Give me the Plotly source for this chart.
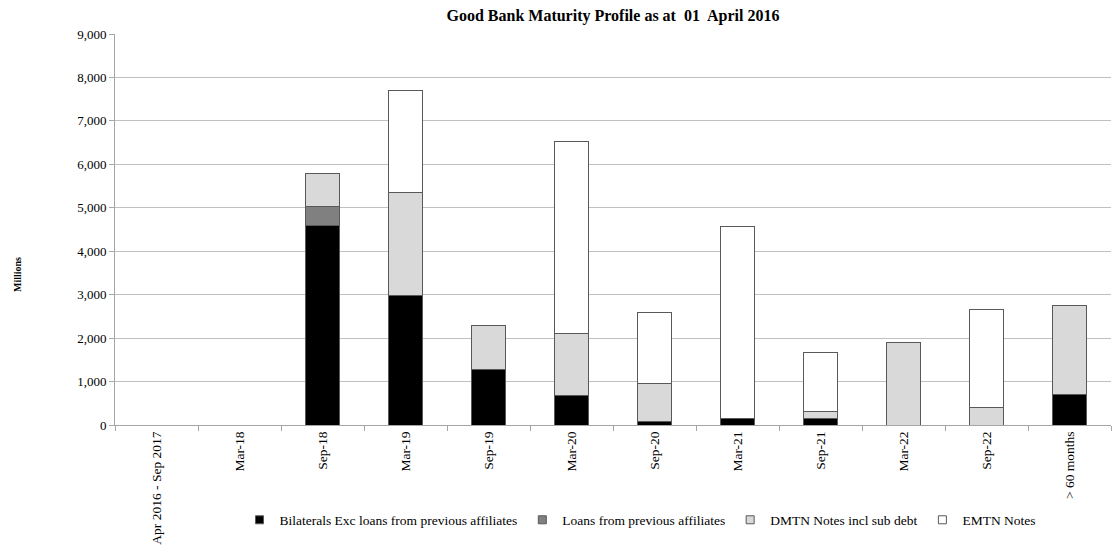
import plotly.graph_objects as go

categories = ["Apr 2016 - Sep 2017", "Mar-18", "Sep-18", "Mar-19", "Sep-19", "Mar-20",
              "Sep-20", "Mar-21", "Sep-21", "Mar-22", "Sep-22", "> 60 months"]

bilaterals = [0, 0, 4600, 2970, 1280, 670, 90, 150, 150, 0, 0, 700]
affiliate_loans = [0, 0, 440, 0, 0, 0, 0, 0, 0, 0, 0, 0]
dmtn_notes = [0, 0, 740, 2390, 1000, 1440, 870, 0, 150, 1895, 400, 2055]
emtn_notes = [0, 0, 0, 2340, 0, 4405, 1640, 4415, 1365, 0, 2250, 0]

series = [
    ("Bilaterals Exc loans from previous affiliates", bilaterals, "#000000"),
    ("Loans from previous affiliates", affiliate_loans, "#808080"),
    ("DMTN Notes incl sub debt", dmtn_notes, "#d9d9d9"),
    ("EMTN Notes", emtn_notes, "#ffffff"),
]

serif = "Liberation Serif, Times New Roman, serif"
outline = "#595959"

fig = go.Figure()
for name, values, color in series:
    fig.add_trace(go.Bar(
        x=categories, y=values, name=name, width=0.4, showlegend=False,
        marker=dict(color=color, line=dict(color=outline, width=1)),
    ))
# small square legend keys
for name, values, color in series:
    fig.add_trace(go.Scatter(
        x=[None], y=[None], mode="markers", name=name,
        marker=dict(symbol="square", size=8, color=color, line=dict(color=outline, width=1)),
    ))

fig.update_layout(
    barmode="stack",
    width=1112, height=549,
    margin=dict(l=115, r=1, t=34, b=124),
    paper_bgcolor="white", plot_bgcolor="white",
    font=dict(family=serif, size=13, color="#000000"),
    title=dict(text="<b>Good Bank Maturity Profile as at  01  April 2016</b>",
               xref="paper", x=0.5, xanchor="center", y=0.972, yanchor="middle",
               font=dict(family=serif, size=16)),
    legend=dict(orientation="h", x=0.125, xanchor="left", y=-0.243, yanchor="middle",
                font=dict(family=serif, size=13.5), traceorder="normal",
                itemwidth=30),
    showlegend=True,
    annotations=[dict(text="<b>Millions</b>", xref="paper", yref="paper",
                      x=-0.106, y=0.386, textangle=-90, showarrow=False,
                      font=dict(family=serif, size=10))],
)
fig.update_xaxes(
    type="category", tickangle=-90, tickson="boundaries",
    ticks="outside", ticklen=5, tickcolor="#a6a6a6",
    showline=True, linecolor="#a6a6a6", linewidth=1, automargin=False,
    showgrid=False, tickfont=dict(family=serif, size=13.5),
)
fig.update_yaxes(
    range=[0, 9000], dtick=1000, tickformat=",d",
    ticks="outside", ticklen=5, tickcolor="#a6a6a6",
    showline=True, linecolor="#a6a6a6", linewidth=1, automargin=False,
    showgrid=True, gridcolor="#c0c0c0", gridwidth=1,
    tickfont=dict(family=serif, size=13),
)

fig.write_html("out.html")
